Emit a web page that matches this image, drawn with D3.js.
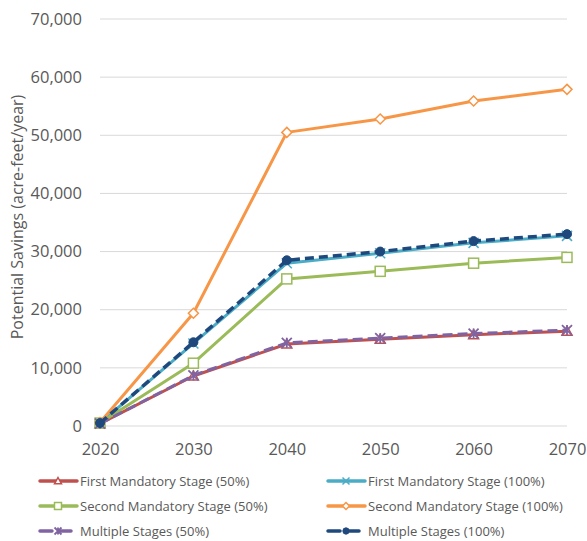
<!DOCTYPE html>
<html><head><meta charset="utf-8">
<script src="https://cdn.jsdelivr.net/npm/d3@7"></script>
<style>body{margin:0;background:#fff}</style>
</head><body>
<svg id="c" width="587" height="541"></svg>
<script>
const years = [2020, 2030, 2040, 2050, 2060, 2070];
const yTicks = [0, 10000, 20000, 30000, 40000, 50000, 60000, 70000];
const seriesNames = ["First Mandatory Stage (50%)", "First Mandatory Stage (100%)", "Second Mandatory Stage (50%)", "Second Mandatory Stage (100%)", "Multiple Stages (50%)", "Multiple Stages (100%)"];
const first50 = [400, 8600, 14100, 14900, 15700, 16300];
const first100 = [500, 14200, 28000, 29700, 31500, 32700];
const second50 = [500, 10800, 25300, 26600, 28000, 29000];
const second100 = [600, 19400, 50500, 52800, 55900, 57900];
const multi50 = [400, 8700, 14300, 15100, 15900, 16500];
const multi100 = [500, 14400, 28500, 30000, 31800, 33000];
const seriesValues = [first50, first100, second50, second100, multi50, multi100];
const colors = ["#C0504D", "#4BACC6", "#9BBB59", "#F79646", "#8064A2", "#1F497D"];
const markers = ["triangle", "x", "square", "diamond", "star", "circle"];
const dashes = [null, null, null, null, "10,5", "9,5"];

const svg = d3.select("#c");
const x = d3.scaleLinear().domain([2020, 2070]).range([100, 567]);
const y = d3.scaleLinear().domain([0, 70000]).range([426, 19]);
const font = "'Open Sans', sans-serif";

// gridlines
svg.append("g").selectAll("line").data(yTicks).join("line")
  .attr("x1", 100).attr("x2", 567)
  .attr("y1", d => y(d)).attr("y2", d => y(d))
  .attr("stroke", "#d9d9d9").attr("stroke-width", 1);

// y axis labels
const ya = svg.append("g").attr("transform", "translate(100,0)")
  .call(d3.axisLeft(y).tickValues(yTicks).tickFormat(d3.format(",")).tickSize(0).tickPadding(18));
ya.select(".domain").remove();
ya.selectAll("text").attr("font-family", font).attr("font-size", 16.5).attr("fill", "#595959");

// x axis labels
const xa = svg.append("g").attr("transform", "translate(0,426)")
  .call(d3.axisBottom(x).tickValues(years).tickFormat(d3.format("d")).tickSize(0).tickPadding(17));
xa.select(".domain").remove();
xa.selectAll("text").attr("font-family", font).attr("font-size", 16.5).attr("fill", "#595959");

// y title
svg.append("text").attr("transform", "translate(23,217) rotate(-90)")
  .attr("text-anchor", "middle").attr("font-family", font).attr("font-size", 16)
  .attr("fill", "#595959").text("Potential Savings (acre-feet/year)");

function drawMarker(g, type, cx, cy, color, s) {
  if (type === "triangle") {
    g.append("path").attr("d", `M${cx},${cy - s}L${cx + s},${cy + s * 0.8}L${cx - s},${cy + s * 0.8}Z`)
      .attr("fill", "#fff").attr("stroke", color).attr("stroke-width", 1.5);
  } else if (type === "square") {
    g.append("rect").attr("x", cx - s).attr("y", cy - s).attr("width", 2 * s).attr("height", 2 * s)
      .attr("fill", "#fff").attr("stroke", color).attr("stroke-width", 1.5);
  } else if (type === "diamond") {
    g.append("path").attr("d", `M${cx},${cy - s}L${cx + s},${cy}L${cx},${cy + s}L${cx - s},${cy}Z`)
      .attr("fill", "#fff").attr("stroke", color).attr("stroke-width", 1.5);
  } else if (type === "x") {
    g.append("path").attr("d", `M${cx - s},${cy - s}L${cx + s},${cy + s}M${cx - s},${cy + s}L${cx + s},${cy - s}`)
      .attr("stroke", color).attr("stroke-width", 1.5);
  } else if (type === "star") {
    g.append("path").attr("d", `M${cx - s},${cy - s}L${cx + s},${cy + s}M${cx - s},${cy + s}L${cx + s},${cy - s}M${cx},${cy - s}L${cx},${cy + s}`)
      .attr("stroke", color).attr("stroke-width", 1.8);
  } else if (type === "circle") {
    g.append("circle").attr("cx", cx).attr("cy", cy).attr("r", s * 0.9)
      .attr("fill", color).attr("stroke", color);
  }
}

const line = d3.line().x((d, i) => x(years[i])).y(d => y(d));
seriesValues.forEach((vals, k) => {
  const g = svg.append("g");
  g.append("path").datum(vals).attr("d", line).attr("fill", "none")
    .attr("stroke", colors[k]).attr("stroke-width", k === 5 ? 3.5 : 3)
    .attr("stroke-dasharray", dashes[k]).attr("stroke-linejoin", "round");
  vals.forEach((v, i) => drawMarker(g, markers[k], x(years[i]), y(v), colors[k], 5));
});

// legend
const legX = [40, 328], legY = [481, 506, 531];
seriesNames.forEach((name, k) => {
  const lx = legX[k % 2], ly = legY[Math.floor(k / 2)];
  const g = svg.append("g");
  g.append("line").attr("x1", lx).attr("x2", lx + 37).attr("y1", ly).attr("y2", ly)
    .attr("stroke", colors[k]).attr("stroke-width", 3.5).attr("stroke-linecap", "round")
    .attr("stroke-dasharray", dashes[k] ? "12,7" : null);
  drawMarker(g, markers[k], lx + 18, ly, colors[k], 3.5);
  g.append("text").attr("x", lx + 40).attr("y", ly + 5).attr("font-family", font)
    .attr("font-size", 13).attr("fill", "#595959").text(name);
});
</script>
</body></html>
